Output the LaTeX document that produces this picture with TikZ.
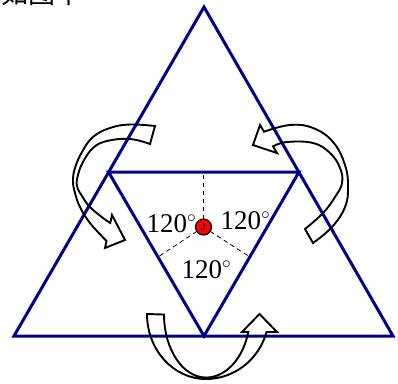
\documentclass[tikz,border=0pt]{standalone}
\usepackage{fontspec}
\setmainfont{Liberation Serif}
\newfontfamily\cjkfont{Noto Sans CJK SC}
\definecolor{navyline}{RGB}{0,0,139}
\begin{document}
\begin{tikzpicture}[x=1pt,y=-1pt,
  tri/.style={draw=navyline, line width=3pt, line join=miter},
  arr/.style={draw=black, line width=1.9pt, line join=miter},
  dashln/.style={draw=black, line width=0.8pt, dash pattern=on 4.5pt off 3.5pt},
  lbl/.style={font=\fontsize{27}{30}\selectfont, inner sep=0pt, anchor=base west},
  dot/.style={circle, draw=black, fill=red, line width=1.2pt, minimum size=16pt, inner sep=0pt, font=\fontsize{10}{10}\selectfont}
]
\useasboundingbox (0,0) rectangle (398,383);
\begin{scope}
\clip (0,0) rectangle (398,383);
\node[font=\cjkfont\fontsize{27}{27}\selectfont, inner sep=0pt, anchor=base west] (cap) at (1,3) {如图甲};
\end{scope}
% vertices
\coordinate (A) at (204,7);
\coordinate (B) at (14,336);
\coordinate (C) at (393,336);
\coordinate (L) at (108.5,172);
\coordinate (R) at (299,172);
\coordinate (M) at (204,336);
\coordinate (dt) at (203.5,172);
\coordinate (dl) at (158,257);
\coordinate (dr) at (250,257);
\draw[tri] (A) -- (B) -- (C) -- cycle;
\draw[tri] (L) -- (R) -- (M) -- cycle;
% centre
\coordinate (O) at (203.5,227);
\draw[dashln] (O) -- (dt);
\draw[dashln] (O) -- (dl);
\draw[dashln] (O) -- (dr);
\node[dot] (Od) at (O) {\textbf{J}};
% labels
\node[lbl] (a1) at (146.5,232) {120$^\circ$};
\node[lbl] (a2) at (220.5,229) {120$^\circ$};
\node[lbl] (a3) at (181.5,278) {120$^\circ$};
% bottom arrow
\draw[arr] (147,314) arc[start angle=180,end angle=90,x radius=59,y radius=65]
  arc[start angle=90,end angle=16.1,x radius=63,y radius=65]
  -- (277,332) -- (259.5,314) -- (242,332) -- (248.3,332)
  arc[start angle=16.1,end angle=90,x radius=44,y radius=63]
  arc[start angle=90,end angle=180,x radius=42,y radius=63]
  -- cycle;
% right arrow
\draw[arr] plot[smooth,tension=0.7] coordinates {(264,131.7) (290,125) (313,128) (333,142) (345,165) (348,187) (345,207) (332,227) (313,243)}
  -- plot[smooth,tension=0.7] coordinates {(305,229) (323,213) (335,197) (342,183) (340,168) (330,153) (313,143) (287,142) (273,146.3)}
  -- (277,153) -- (253,145) -- (260,125) -- cycle;
% left arrow
\draw[arr] plot[smooth,tension=0.7] coordinates {(106.5,241) (90,223) (80,207) (75,193) (73,181) (75,168) (82,152) (93,137) (110,128) (130,124.5) (155,126)}
  -- plot[smooth,tension=0.7] coordinates {(150,144) (130,139) (107,141) (93,148) (83,162) (78,175) (77,186) (82,196) (90,207) (103,218) (110.3,223)}
  -- (112,215) -- (125,240) -- (105,248) -- cycle;
\end{tikzpicture}
\end{document}
